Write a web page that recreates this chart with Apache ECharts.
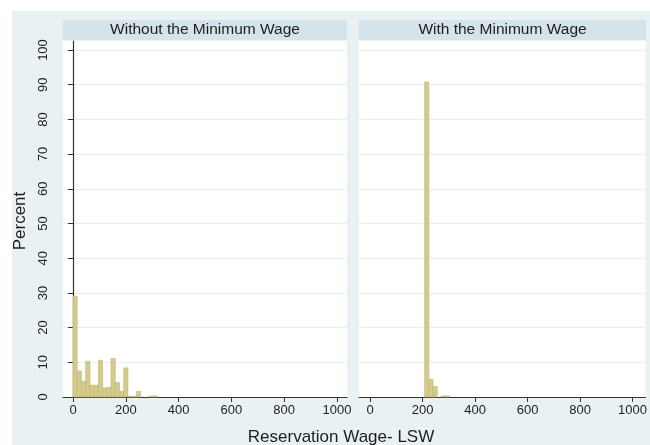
<!DOCTYPE html>
<html>
<head>
<meta charset="utf-8">
<script src="https://cdn.jsdelivr.net/npm/echarts@6/dist/echarts.min.js"></script>
<style>
  html, body { margin: 0; padding: 0; background: #ffffff; }
  #chart { width: 650px; height: 445px; }
</style>
</head>
<body>
<div id="chart"></div>
<script>
// Histogram of reservation wages (LSW), percent of respondents per bin
const binWidth = 16;
const binStartsLeft = [0, 16, 32, 48, 64, 80, 96, 112, 128, 144, 160, 176, 192, 208, 224, 240, 288, 304];
const percentLeft   = [29, 7.5, 4.5, 10.3, 3.4, 3.4, 10.6, 2.6, 2.8, 11.1, 4.2, 1.6, 8.4, 0.2, 0.2, 1.6, 0.3, 0.3];
const binStartsRight = [208, 224, 240, 272, 288];
const percentRight   = [90.8, 5.1, 3.0, 0.3, 0.3];
const panelTitles = ['Without the Minimum Wage', 'With the Minimum Wage'];
const xTicks = [0, 200, 400, 600, 800, 1000];
const yTicks = [0, 10, 20, 30, 40, 50, 60, 70, 80, 90, 100];
const xTitle = 'Reservation Wage- LSW';
const yTitle = 'Percent';

const FONT = 'Liberation Sans, Arial, sans-serif';
const BAR_FILL = '#d4ca8a';
const BAR_EDGE = '#c2b674';
const TEXT = '#1e1e1e';
const AXIS = '#333333';

function toBins(starts, values) {
  return starts.map((s, i) => [s, s + binWidth, values[i]]);
}

function renderBar(params, api) {
  const start = api.value(0), end = api.value(1), v = api.value(2);
  const p0 = api.coord([start, v]);
  const p1 = api.coord([end, 0]);
  return {
    type: 'rect',
    shape: { x: p0[0], y: p0[1], width: p1[0] - p0[0], height: p1[1] - p0[1] },
    style: { fill: BAR_FILL, stroke: BAR_EDGE, lineWidth: 0.6 }
  };
}

const plainNumber = (v) => String(v);

const chart = echarts.init(document.getElementById('chart'), null, { renderer: 'canvas' });

const grids = [
  { left: 63, top: 41, width: 284, height: 356, show: true, backgroundColor: '#ffffff', borderWidth: 0 },
  { left: 359, top: 41, width: 287, height: 356, show: true, backgroundColor: '#ffffff', borderWidth: 0 }
];

function xAxisFor(idx, min, max) {
  return {
    type: 'value', gridIndex: idx, min: min, max: max,
    axisLine: { show: true, onZero: false, lineStyle: { color: AXIS, width: 1.2 } },
    axisTick: { show: true, length: 5, customValues: xTicks, lineStyle: { color: AXIS } },
    axisLabel: { show: true, customValues: xTicks, formatter: plainNumber, margin: 7, color: TEXT, fontFamily: FONT, fontSize: 13 },
    splitLine: { show: false }
  };
}

function yAxisFor(idx, showAxis) {
  return {
    type: 'value', gridIndex: idx, min: 0, max: 102.6,
    axisLine: { show: showAxis, lineStyle: { color: AXIS, width: 1.2 } },
    axisTick: { show: showAxis, length: 5, customValues: yTicks, lineStyle: { color: AXIS } },
    axisLabel: { show: showAxis, customValues: yTicks, formatter: plainNumber, rotate: 90, margin: 13, color: TEXT, fontFamily: FONT, fontSize: 13 },
    splitLine: { show: true, lineStyle: { color: '#e6eef1', width: 1 } }
  };
}

const stripGraphics = [];
[[63, 284], [359, 287]].forEach((g, i) => {
  stripGraphics.push({
    type: 'rect', z: 1,
    shape: { x: g[0], y: 20, width: g[1], height: 20 },
    style: { fill: '#d5e3ea' }
  });
  stripGraphics.push({
    type: 'text', z: 2,
    x: g[0] + g[1] / 2, y: 30,
    style: { text: panelTitles[i], fill: TEXT, font: '15.5px ' + FONT, align: 'center', verticalAlign: 'middle' }
  });
});

chart.setOption({
  animation: false,
  backgroundColor: '#ffffff',
  graphic: [
    { type: 'rect', z: -10, shape: { x: 12, y: 11, width: 638, height: 434 }, style: { fill: '#e9f1f3' } },
    ...stripGraphics,
    {
      type: 'text', x: 341, y: 437,
      style: { text: xTitle, fill: TEXT, font: '17px ' + FONT, align: 'center', verticalAlign: 'middle' }
    },
    {
      type: 'text', x: 20, y: 221, rotation: Math.PI / 2,
      style: { text: yTitle, fill: TEXT, font: '17px ' + FONT, align: 'center', verticalAlign: 'middle' }
    }
  ],
  grid: grids,
  xAxis: [xAxisFor(0, -38, 1038), xAxisFor(1, -42, 1049)],
  yAxis: [yAxisFor(0, true), yAxisFor(1, false)],
  series: [
    {
      type: 'custom', xAxisIndex: 0, yAxisIndex: 0,
      renderItem: renderBar, encode: { x: [0, 1], y: 2 },
      data: toBins(binStartsLeft, percentLeft)
    },
    {
      type: 'custom', xAxisIndex: 1, yAxisIndex: 1,
      renderItem: renderBar, encode: { x: [0, 1], y: 2 },
      data: toBins(binStartsRight, percentRight)
    }
  ]
});
</script>
</body>
</html>
